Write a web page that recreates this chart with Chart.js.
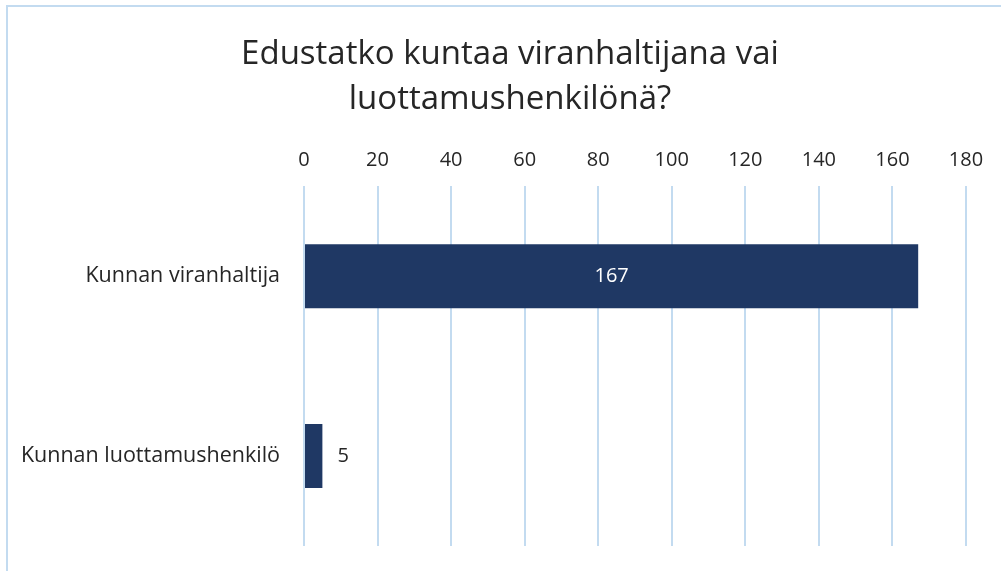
<!DOCTYPE html>
<html>
<head>
<meta charset="utf-8">
<script src="https://cdn.jsdelivr.net/npm/chart.js@4"></script>
<style>
  html, body { margin: 0; padding: 0; background: #fff; }
  #wrap { position: relative; width: 1001px; height: 571px; overflow: hidden; }
  /* kehys: vain ylä- ja vasen reuna näkyvät kuvassa */
  #frame { position: absolute; left: 6px; top: 5px; width: 1200px; height: 800px;
           border-left: 2px solid #c3dbf0; border-top: 2px solid #c3dbf0; }
  canvas { position: absolute; left: 0; top: 0; }
</style>
</head>
<body>
<div id="wrap">
  <div id="frame"></div>
  <canvas id="myChart" width="1001" height="571"></canvas>
</div>
<script>
// Kategoriat ja arvot
const categories = ["Kunnan viranhaltija", "Kunnan luottamushenkilö"];
const counts = [167, 5];
const titleLines = ["Edustatko kuntaa viranhaltijana vai", "luottamushenkilönä?"];
const tickValues = [0, 20, 40, 60, 80, 100, 120, 140, 160, 180];

const fontName = "'Open Sans', sans-serif";
const textColor = "#262626";
const gridColor = "#c3dbf0";
const barColor = "#1f3864";

// Arvot palkkien päälle / viereen
const valueLabels = {
  id: "valueLabels",
  afterDatasetsDraw(chart) {
    const ctx = chart.ctx;
    const meta = chart.getDatasetMeta(0);
    ctx.save();
    ctx.font = "20px " + fontName;
    ctx.textBaseline = "middle";
    meta.data.forEach((bar, i) => {
      const v = chart.data.datasets[0].data[i];
      if (bar.x - bar.base > 60) {
        ctx.fillStyle = "#ffffff";
        ctx.textAlign = "center";
        ctx.fillText(v, (bar.x + bar.base) / 2, bar.y);
      } else {
        ctx.fillStyle = textColor;
        ctx.textAlign = "left";
        ctx.fillText(v, bar.x + 15, bar.y);
      }
    });
    ctx.restore();
  }
};

new Chart(document.getElementById("myChart"), {
  type: "bar",
  data: {
    labels: categories,
    datasets: [{
      data: counts,
      backgroundColor: barColor,
      categoryPercentage: 1,
      barPercentage: 0.356
    }]
  },
  options: {
    indexAxis: "y",
    responsive: false,
    animation: false,
    layout: { padding: { left: 19, right: 0, top: 0, bottom: 25 } },
    plugins: {
      legend: { display: false },
      tooltip: { enabled: false },
      title: {
        display: true,
        text: titleLines,
        color: textColor,
        font: { family: fontName, size: 33, weight: "normal", lineHeight: 1.37 },
        padding: { top: 32, bottom: 14 }
      }
    },
    scales: {
      x: {
        position: "top",
        min: 0,
        max: 180,
        afterBuildTicks(scale) {
          scale.ticks = tickValues.map(v => ({ value: v }));
        },
        afterFit(scale) {
          scale.height = 50;
          scale.paddingRight = 35;
        },
        grid: { color: gridColor, lineWidth: 2, drawTicks: false },
        border: { display: false },
        ticks: {
          color: textColor,
          padding: 14,
          maxRotation: 0,
          font: { family: fontName, size: 20 }
        }
      },
      y: {
        afterFit(scale) {
          scale.width = 285;
          scale.paddingTop = 0;
          scale.paddingBottom = 0;
        },
        grid: { display: false, drawTicks: false },
        border: { display: false },
        ticks: {
          color: textColor,
          padding: 24,
          font: { family: fontName, size: 21.5 }
        }
      }
    }
  },
  plugins: [valueLabels]
});
</script>
</body>
</html>
